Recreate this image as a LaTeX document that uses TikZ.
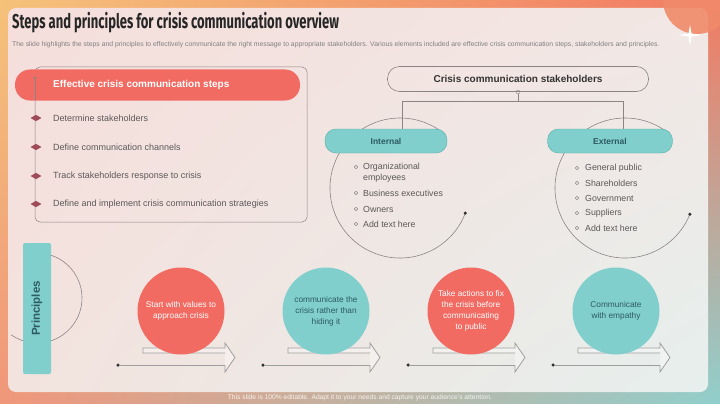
\documentclass[tikz,border=0pt]{standalone}
\usepackage{fontspec}
\setmainfont{Liberation Sans}
\newfontfamily\titlefont{Fira Sans}[FakeStretch=0.65]
\usetikzlibrary{shapes.geometric,arrows.meta,positioning,shadings}
\definecolor{coral}{HTML}{F16B63}
\definecolor{tealc}{HTML}{80CFCC}
\definecolor{tealdk}{HTML}{5BAEAB}
\definecolor{txtgray}{HTML}{5C5858}
\definecolor{darkteal}{HTML}{2E5A63}
\definecolor{stepred}{HTML}{9E4A58}
\definecolor{linegray}{HTML}{8C8484}
\definecolor{blob}{HTML}{F08A6A}
\definecolor{frameUL}{HTML}{F5C27A}
\definecolor{frameUR}{HTML}{F27A62}
\definecolor{frameLL}{HTML}{F0967A}
\definecolor{frameLR}{HTML}{90CFCC}
\definecolor{panelUL}{HTML}{F5DEDB}
\definecolor{panelUR}{HTML}{F2E7E4}
\definecolor{panelLL}{HTML}{F3E3DE}
\definecolor{panelLR}{HTML}{E6EFED}

\begin{document}
\begin{tikzpicture}[x=1pt,y=-1pt,
  steptxt/.style={anchor=west, inner sep=0, text=txtgray, font=\fontsize{9}{11}\selectfont},
  stepmark/.style={diamond, fill=stepred, minimum width=11, minimum height=6.5, inner sep=0},
  tealpill/.style={draw=tealdk, fill=tealc, rounded corners=11, minimum height=24, inner sep=0, font=\bfseries\fontsize{8.5}{10}\selectfont, text=darkteal},
  listtxt/.style={anchor=west, inner sep=0, text=txtgray, font=\fontsize{8.8}{10}\selectfont},
  bul/.style={circle, draw=txtgray!70, minimum size=3.5, inner sep=0, line width=.45pt},
  princ/.style={circle, minimum size=87, inner sep=0, align=center, font=\fontsize{8.3}{11}\selectfont},
  arcline/.style={draw=linegray, line width=.6pt},
  dotmark/.style={circle, fill=black!80, minimum size=3.5, inner sep=0},
  blockarr/.style={draw=gray!75, line width=.8pt, fill=white, fill opacity=.35}]
\useasboundingbox (0,0) rectangle (720,404);
%background frame and panel
\shade[upper left=frameUL, upper right=frameUR, lower left=frameLL, lower right=frameLR] (0,0) rectangle (720,404);
\shade[rounded corners=8, upper left=panelUL, upper right=panelUR, lower left=panelLL, lower right=panelLR] (8,8) rectangle (708,392);
\fill[blob, opacity=.9] (697,0) circle (34);
\fill[white] (690,25) -- (691.5,33.5) -- (702,35) -- (691.5,36.5) -- (690,46) -- (688.5,36.5) -- (678,35) -- (688.5,33.5) -- cycle;
%title
\node[anchor=base west, inner sep=0, text=black!85, font=\titlefont\bfseries\fontsize{20}{24}\selectfont] (title) at (12,29) {Steps and principles for crisis communication overview};
\node[anchor=west, inner sep=0, text=gray, font=\fontsize{6.8}{7.5}\selectfont] (sub) at (12,45) {The slide highlights the steps and principles to effectively communicate the right message to appropriate stakeholders. Various elements included are effective crisis communication steps, stakeholders and principles.};
%steps box
\draw[linegray, line width=.5pt, rounded corners=5] (35,67) rectangle (307,222);
\node[fill=coral, rounded corners=15, minimum width=285, minimum height=31, inner sep=0] (head) at (157.5,85) {};
\node[anchor=west, inner sep=0, text=white, font=\bfseries\fontsize{10}{12}\selectfont] (headtxt) at (53,85) {Effective crisis communication steps};
\node[circle, draw=linegray, minimum size=3, inner sep=0] (top) at (35,78) {};
\draw[linegray, line width=.5pt] (top) -- (35,100);
\node[stepmark] (m1) at (36,118) {}; \node[steptxt] (s1) at (53,118) {Determine stakeholders};
\node[stepmark] (m2) at (36,147) {}; \node[steptxt] (s2) at (53,147) {Define communication channels};
\node[stepmark] (m3) at (36,176) {}; \node[steptxt] (s3) at (53,176) {Track stakeholders response to crisis};
\node[stepmark] (m4) at (36,204) {}; \node[steptxt] (s4) at (53,204) {Define and implement crisis communication strategies};
%stakeholders
\node[draw=linegray, line width=.6pt, rounded corners=12, minimum width=261, minimum height=25, text=black!80, font=\bfseries\fontsize{10}{12}\selectfont] (stk) at (518,79) {Crisis communication stakeholders};
\node[circle, draw=linegray, minimum size=4, inner sep=0] (ring) at (518,92) {};
\coordinate (jn) at (518,101); \coordinate (jl) at (402,101); \coordinate (jr) at (623,101);
%arcs behind the pills
\draw[arcline] (400,188) ++(21:70) arc[start angle=21, end angle=310, radius=70];
\node[dotmark] (idot) at (465.3,213.1) {};
\draw[arcline] (625,188) ++(22:70) arc[start angle=22, end angle=310, radius=70];
\node[dotmark] (edot) at (689.9,214.2) {};
\node[tealpill, minimum width=122] (int) at (386,141) {Internal};
\node[tealpill, minimum width=125] (ext) at (610,141) {External};
\draw[linegray, line width=.6pt] (ring) -- (jn);
\draw[linegray, line width=.6pt] (jl) -- (jr);
\draw[linegray, line width=.6pt] (jl) -- (jl |- int.north);
\draw[linegray, line width=.6pt] (jr) -- (jr |- ext.north);
%internal list
\node[bul] (i1) at (356,167) {}; \node[listtxt] (it1) at (363,167) {Organizational};
\node[listtxt] (it1b) at (363,178) {employees};
\node[bul] (i2) at (356,193) {}; \node[listtxt] (it2) at (363,193) {Business executives};
\node[bul] (i3) at (356,209) {}; \node[listtxt] (it3) at (363,209) {Owners};
\node[bul] (i4) at (356,224) {}; \node[listtxt] (it4) at (363,224) {Add text here};
%external list
\node[bul] (e1) at (577,168) {}; \node[listtxt] (et1) at (585,168) {General public};
\node[bul] (e2) at (577,183) {}; \node[listtxt] (et2) at (585,183) {Shareholders};
\node[bul] (e3) at (577,198) {}; \node[listtxt] (et3) at (585,198) {Government};
\node[bul] (e4) at (577,213) {}; \node[listtxt] (et4) at (585,213) {Suppliers};
\node[bul] (e5) at (577,228) {}; \node[listtxt] (et5) at (585,228) {Add text here};
%principles
\draw[arcline] (37,298) ++(-80:45) arc[start angle=-80, end angle=125, radius=45];
\node[fill=tealc, rounded corners=2, rotate=90, minimum width=131, minimum height=28, inner sep=0, text=darkteal, font=\bfseries\fontsize{11.5}{13}\selectfont] (prin) at (37,308.5) {Principles};
%arrows under the circles
\foreach \i in {0,1,2,3}{
  \pgfmathsetmacro\dx{145*\i}
  \draw[blockarr] (225+\dx,353) -- (143+\dx,353) -- (143+\dx,348) -- (225+\dx,348) -- (225+\dx,343) -- (235+\dx,357.5) -- (225+\dx,372) -- (225+\dx,365);
  \node[dotmark] (d\i) at (118+\dx,365) {};
  \coordinate (h\i) at (225+\dx,365);
  \draw[gray!75, line width=.8pt] (d\i) -- (h\i);
}
\node[princ, fill=coral, text=white] (p1) at (181,311) {Start with values to\\approach crisis};
\node[princ, fill=tealc, text=darkteal] (p2) at (326,311) {communicate the\\crisis rather than\\hiding it};
\node[princ, fill=coral, text=white] (p3) at (471,311) {Take actions to fix\\the crisis before\\communicating\\to public};
\node[princ, fill=tealc, text=darkteal] (p4) at (616,311) {Communicate\\with empathy};
%footer
\node[inner sep=0, text=white, opacity=.85, font=\fontsize{6.7}{7}\selectfont] (foot) at (360,398) {This slide is 100\% editable. Adapt it to your needs and capture your audience's attention.};
\end{tikzpicture}
\end{document}
